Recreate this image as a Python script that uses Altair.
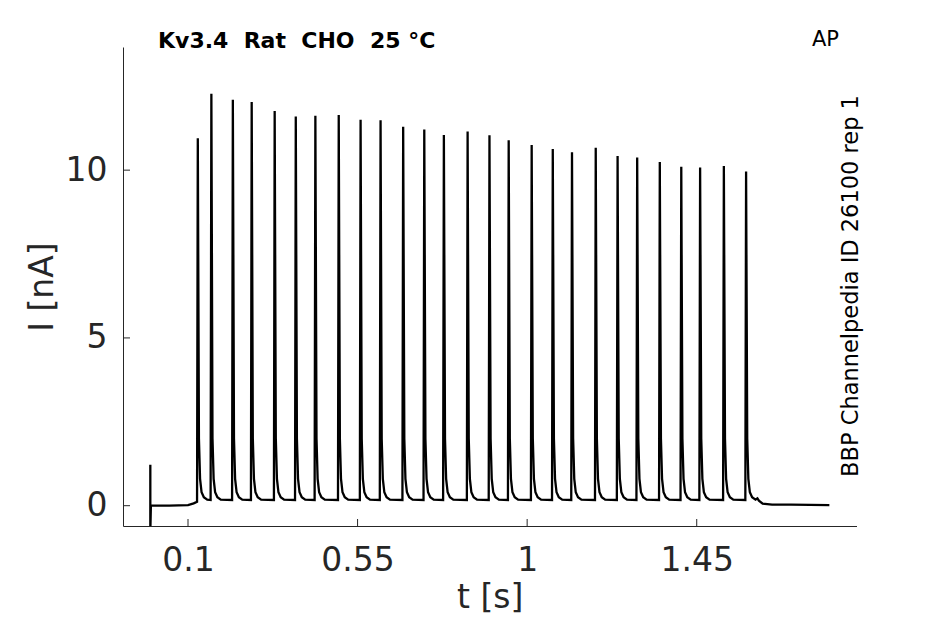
import altair as alt
import pandas as pd

# ---- data ----
spike_t = [0.126, 0.162, 0.219, 0.269, 0.330, 0.386, 0.438, 0.500, 0.558, 0.611,
           0.671, 0.727, 0.779, 0.842, 0.900, 0.951, 1.012, 1.068, 1.119, 1.182,
           1.240, 1.292, 1.352, 1.409, 1.459, 1.522, 1.581]
spike_peak = [10.95, 12.28, 12.10, 12.03, 11.76, 11.60, 11.62, 11.64, 11.50, 11.49,
              11.29, 11.21, 11.05, 11.15, 11.04, 10.89, 10.75, 10.63, 10.53, 10.67,
              10.42, 10.38, 10.24, 10.10, 10.08, 10.12, 9.96]
rise_dt = 0.002
trough_level = 0.17
decay_dt = [0.003, 0.006, 0.010, 0.016, 0.025]
decay_i = [2.0, 0.8, 0.4, 0.25, 0.18]
pre_t = [0.0, 0.0, 0.0015, 0.05, 0.10, 0.115]
pre_i = [1.22, -0.8, 0.0, 0.0, 0.02, 0.07]
post_t = [1.611, 1.615, 1.625, 1.65, 1.70, 1.802]
post_i = [0.22, 0.15, 0.06, 0.03, 0.03, 0.02]

x_ticks = [0.1, 0.55, 1, 1.45]
y_ticks = [0, 5, 10]

NB = "\u00a0"
title_text = f"Kv3.4{NB} Rat{NB} CHO{NB} 25 °C"
corner_text = "AP"
side_text = "BBP Channelpedia ID 26100 rep 1"

# ---- build trace table ----
rows = list(zip(pre_t, pre_i))
for k, (ts, pk) in enumerate(zip(spike_t, spike_peak)):
    rows.append((ts - rise_dt, trough_level if k else 0.12))
    rows.append((ts, pk))
    for dt, lv in zip(decay_dt, decay_i):
        rows.append((ts + dt, lv))
rows += list(zip(post_t, post_i))
df = pd.DataFrame(rows, columns=["t", "I"])
df["order"] = range(len(df))

W, H = 733.5, 479
FONT = "DejaVu Sans"
AX = "#262626"

xscale = alt.Scale(domain=[-0.0725, 1.874], nice=False, zero=False)
yscale = alt.Scale(domain=[-0.605, 13.67], nice=False, zero=False)

xaxis = alt.Axis(values=x_ticks, format=".3~g", title="t [s]", grid=False,
                 tickSize=0, labelPadding=18, labelFontSize=33, labelFont=FONT,
                 labelColor=AX, titleFontSize=33, titleFont=FONT,
                 titleFontWeight="normal", titleColor=AX, titlePadding=4,
                 domainColor=AX, domainWidth=1, labelFlush=False)
yaxis = alt.Axis(values=y_ticks, title="I [nA]", grid=False, tickSize=0,
                 labelPadding=16, labelFontSize=33, labelFont=FONT,
                 labelColor=AX, titleFontSize=33, titleFont=FONT,
                 titleFontWeight="normal", titleColor=AX, titlePadding=6,
                 domainColor=AX, domainWidth=1, labelFlush=False)

line = alt.Chart(df).mark_line(color="black", strokeWidth=2.3, clip=True).encode(
    x=alt.X("t:Q", scale=xscale, axis=xaxis, title="t [s]"),
    y=alt.Y("I:Q", scale=yscale, axis=yaxis, title="I [nA]"),
    order="order:Q",
)

xt = alt.Chart(pd.DataFrame({"t": x_ticks})).mark_rule(color=AX, strokeWidth=1).encode(
    x=alt.X("t:Q", scale=xscale, axis=xaxis, title="t [s]"),
    y=alt.value(H), y2=alt.value(H - 7))
yt = alt.Chart(pd.DataFrame({"I": y_ticks})).mark_rule(color=AX, strokeWidth=1).encode(
    y=alt.Y("I:Q", scale=yscale, axis=yaxis, title="I [nA]"),
    x=alt.value(0), x2=alt.value(7))

title = alt.Chart(pd.DataFrame({"s": [title_text]})).mark_text(
    font=FONT, fontSize=22, fontWeight="bold", align="left", baseline="alphabetic",
    color="black").encode(text="s:N", x=alt.value(35), y=alt.value(0.5))
corner = alt.Chart(pd.DataFrame({"s": [corner_text]})).mark_text(
    font=FONT, fontSize=21, align="center", baseline="alphabetic",
    color="black").encode(text="s:N", x=alt.value(702.5), y=alt.value(-1))
side = alt.Chart(pd.DataFrame({"s": [side_text]})).mark_text(
    font=FONT, fontSize=22.5, align="center", baseline="middle", angle=270,
    color="black").encode(text="s:N", x=alt.value(728), y=alt.value(239))

chart = alt.layer(line, xt, yt, title, corner, side).properties(
    width=W, height=H,
    autosize=alt.AutoSizeParams(type="none"),
    padding={"left": 115, "top": 39, "right": 80, "bottom": 90},
).configure_view(stroke=None)

chart.save("out.html", embed_options={"renderer": "svg", "actions": False})
